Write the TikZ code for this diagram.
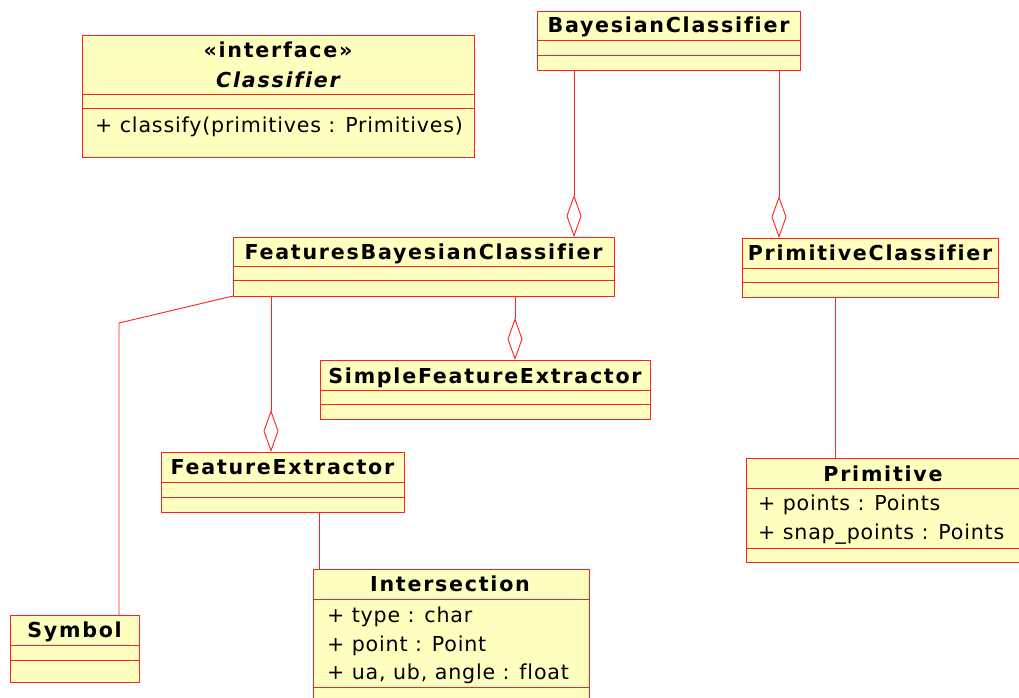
\documentclass[tikz,border=0pt]{standalone}
\usepackage{fontspec}
\setmainfont{DejaVu Sans}[LetterSpace=4, Ligatures=NoCommon]
\newfontfamily\namefont{DejaVu Sans Bold}[LetterSpace=8.5, Ligatures=NoCommon,
  ItalicFont={DejaVu Sans Bold Oblique}]
\usetikzlibrary{arrows.meta}
\definecolor{umlred}{RGB}{255,32,32}
\definecolor{umlfill}{RGB}{255,255,192}
\tikzset{
  umlbox/.style={draw=umlred, fill=umlfill, line width=1pt, rectangle,
    anchor=north west, inner sep=0pt, outer sep=0pt},
  compsep/.style={draw=umlred, line width=1pt},
  clsname/.style={anchor=base, inner sep=0pt, font=\fontsize{20.6}{24}\selectfont\namefont},
  attr/.style={anchor=base west, inner sep=0pt, font=\fontsize{20.6}{24}\selectfont},
  link/.style={draw=umlred, line width=0.9pt},
  agg/.style={link, -{Diamond[open, length=42pt, width=15pt, line width=0.9pt]}},
}
\begin{document}
\begin{tikzpicture}[x=1pt, y=-1pt]
\useasboundingbox (0,0) rectangle (1019,697);
\clip (0,0) rectangle (1019,697);

% class boxes
\node[umlbox, minimum width=392pt, minimum height=122pt] (ifc) at (82,35) {};
\node[umlbox, minimum width=263pt, minimum height=59pt] (bc) at (537,11) {};
\node[umlbox, minimum width=381pt, minimum height=59pt] (fbc) at (233,237) {};
\node[umlbox, minimum width=256pt, minimum height=59pt] (pc) at (742,238) {};
\node[umlbox, minimum width=330pt, minimum height=59pt] (sfe) at (320,360) {};
\node[umlbox, minimum width=243pt, minimum height=60pt] (fe) at (161,452) {};
\node[umlbox, minimum width=276pt, minimum height=140pt] (inter) at (313,569) {};
\node[umlbox, minimum width=129pt, minimum height=67pt] (sym) at (10,615) {};
\node[umlbox, minimum width=275pt, minimum height=104pt] (prim) at (746,458) {};

% compartment separators
\foreach \b/\ya/\yb in {ifc/94/108, bc/40/55, fbc/266/280, pc/268/282,
    sfe/390/404, fe/482/497, inter/599/687, sym/645/660, prim/488/548} {
  \draw[compsep] (\b.west |- 0,\ya) -- (\b.east |- 0,\ya);
  \draw[compsep] (\b.west |- 0,\yb) -- (\b.east |- 0,\yb);
}

% class names
\node[clsname] (ifc-st) at (ifc.north |- 0,57) {«interface»};
\node[clsname, font=\fontsize{20.6}{24}\selectfont\namefont\itshape] (ifc-nm) at (ifc.north |- 0,87) {Classifier};
\node[clsname] (bc-nm) at (bc.north |- 0,32) {BayesianClassifier};
\node[clsname] (fbc-nm) at (fbc.north |- 0,259) {FeaturesBayesianClassifier};
\node[clsname] (pc-nm) at (pc.north |- 0,260) {PrimitiveClassifier};
\node[clsname] (sfe-nm) at (sfe.north |- 0,383) {SimpleFeatureExtractor};
\node[clsname] (fe-nm) at (fe.north |- 0,474) {FeatureExtractor};
\node[clsname] (inter-nm) at (450,591) {Intersection};
\node[clsname] (sym-nm) at (sym.north |- 0,637) {Symbol};
\node[clsname] (prim-nm) at (883,481) {Primitive};

% members
\node[attr] (ifc-op) at (95,132) {+ classify(primitives : Primitives)};
\node[attr] (inter-a1) at (327,622) {+ type : char};
\node[attr] (inter-a2) at (327,651) {+ point : Point};
\node[attr] (inter-a3) at (327,679) {+ ua, ub, angle : float};
\node[attr] (prim-a1) at (758,510) {+ points : Points};
\node[attr] (prim-a2) at (758,539) {+ snap\_points : Points};

% associations
\coordinate (bend) at (119,323);
\draw[agg] (bc.south -| 574,0) -- (fbc.north -| 574,0);
\draw[agg] (bc.south -| 779,0) -- (pc.north -| 779,0);
\draw[agg] (fbc.south -| 515,0) -- (sfe.north -| 515,0);
\draw[agg] (fbc.south -| 271,0) -- (fe.north -| 271,0);
\draw[link] (fbc.south west) -- (bend) -- (sym.north -| bend);
\draw[link] (pc.south -| 835,0) -- (prim.north -| 835,0);
\draw[link] (fe.south -| 319,0) -- (inter.north -| 319,0);
\end{tikzpicture}
\end{document}
